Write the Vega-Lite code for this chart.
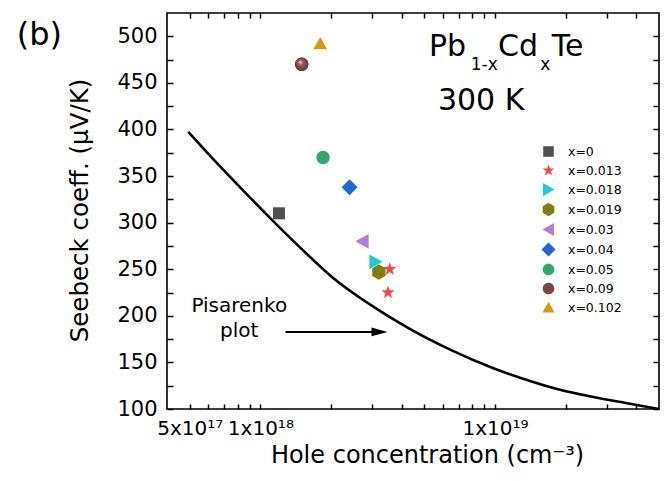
{
  "$schema": "https://vega.github.io/schema/vega-lite/v6.json",
  "autosize": {"type": "none"},
  "padding": {"left": 167, "top": 13, "right": 11, "bottom": 72},
  "width": 492,
  "height": 396,
  "background": "white",
  "config": {
    "font": "DejaVu Sans",
    "view": {"stroke": "black", "strokeWidth": 1.6}
  },
  "datasets": {
    "pisarenko": [
      {"p": 4.93e17, "S": 397.5},
      {"p": 6.43e17, "S": 365.8},
      {"p": 8.64e17, "S": 332.0},
      {"p": 1.126e18, "S": 302.5},
      {"p": 1.483e18, "S": 272.9},
      {"p": 2.03e18, "S": 241.2},
      {"p": 2.95e18, "S": 211.7},
      {"p": 4.37e18, "S": 185.4},
      {"p": 6.47e18, "S": 163.4},
      {"p": 9.78e18, "S": 144.0},
      {"p": 1.288e19, "S": 133.3},
      {"p": 1.909e19, "S": 120.4},
      {"p": 2.563e19, "S": 113.4},
      {"p": 3.61e19, "S": 106.4},
      {"p": 5.0e19, "S": 100}
    ],
    "samples": [
      {"sample": "x=0", "p": 1.2e18, "S": 310},
      {"sample": "x=0.018", "p": 3.1e18, "S": 258},
      {"sample": "x=0.019", "p": 3.2e18, "S": 247},
      {"sample": "x=0.013", "p": 3.56e18, "S": 250},
      {"sample": "x=0.013", "p": 3.5e18, "S": 225},
      {"sample": "x=0.03", "p": 2.72e18, "S": 280},
      {"sample": "x=0.04", "p": 2.4e18, "S": 338},
      {"sample": "x=0.05", "p": 1.85e18, "S": 370},
      {"sample": "x=0.09", "p": 1.5e18, "S": 470},
      {"sample": "x=0.102", "p": 1.8e18, "S": 492}
    ]
  },
  "layer": [
    {
      "data": {"name": "pisarenko"},
      "mark": {"type": "line", "color": "black", "strokeWidth": 2.6, "clip": true, "interpolate": "monotone"},
      "encoding": {
        "x": {
          "field": "p", "type": "quantitative",
          "scale": {"type": "log", "domain": [4e17, 5e19], "nice": false},
          "axis": {
            "orient": "bottom", "offset": -5, "zindex": 1,
            "values": [5e17, 6e17, 7e17, 8e17, 9e17, 1e18, 2e18, 3e18, 4e18, 5e18, 6e18, 7e18, 8e18, 9e18, 1e19, 2e19, 3e19, 4e19],
            "labelExpr": "datum.value == 5e17 ? '5x10¹⁷' : datum.value == 1e18 ? '1x10¹⁸' : datum.value == 1e19 ? '1x10¹⁹' : ''",
            "ticks": true, "tickSize": 5,
            "tickWidth": 1.5, "tickColor": "black",
            "domain": true, "domainOpacity": 0, "grid": false,
            "labelFont": "DejaVu Sans", "labelFontSize": 20, "labelColor": "black",
            "labelPadding": 9, "labelOverlap": false, "labelFlush": false,
            "title": "Hole concentration (cm⁻³)",
            "titleFont": "DejaVu Sans", "titleFontSize": 24, "titleFontWeight": "normal", "titleColor": "black",
            "titleX": 260, "titleY": 58, "titleBaseline": "alphabetic"
          }
        },
        "y": {
          "field": "S", "type": "quantitative",
          "scale": {"domain": [100, 525], "zero": false, "nice": false},
          "axis": {
            "orient": "left", "offset": -6, "zindex": 1,
            "values": [100, 125, 150, 175, 200, 225, 250, 275, 300, 325, 350, 375, 400, 425, 450, 475, 500],
            "labelExpr": "datum.value % 50 == 0 ? datum.label : ''",
            "ticks": true, "tickSize": 6,
            "tickWidth": 1.5, "tickColor": "black",
            "domain": true, "domainOpacity": 0, "grid": false,
            "labelFont": "DejaVu Sans", "labelFontSize": 21, "labelColor": "black",
            "labelPadding": 10, "labelOverlap": false, "labelFlush": false,
            "title": "Seebeck coeff. (µV/K)",
            "titleFont": "DejaVu Sans", "titleFontSize": 24.5, "titleFontWeight": "normal", "titleColor": "black",
            "titleX": -86, "titleY": 197, "titleBaseline": "alphabetic", "titleAngle": -90
          }
        }
      }
    },
    {
      "data": {"name": "samples"},
      "mark": {"type": "point", "filled": true, "size": 196, "opacity": 1, "strokeWidth": 0},
      "encoding": {
        "x": {
          "field": "p", "type": "quantitative",
          "scale": {"type": "log", "domain": [4e17, 5e19], "nice": false},
          "axis": {
            "orient": "top", "offset": -5, "zindex": 1,
            "values": [5e17, 6e17, 7e17, 8e17, 9e17, 1e18, 2e18, 3e18, 4e18, 5e18, 6e18, 7e18, 8e18, 9e18, 1e19, 2e19, 3e19, 4e19],
            "labels": false, "title": null, "grid": false,
            "domain": true, "domainOpacity": 0,
            "ticks": true, "tickSize": 5,
            "tickWidth": 1.5, "tickColor": "black"
          }
        },
        "y": {
          "field": "S", "type": "quantitative",
          "scale": {"domain": [100, 525], "zero": false, "nice": false},
          "axis": {
            "orient": "right", "offset": -6, "zindex": 1,
            "values": [100, 125, 150, 175, 200, 225, 250, 275, 300, 325, 350, 375, 400, 425, 450, 475, 500],
            "labels": false, "title": null, "grid": false,
            "domain": true, "domainOpacity": 0,
            "ticks": true, "tickSize": 6,
            "tickWidth": 1.5, "tickColor": "black"
          }
        },
        "color": {
          "field": "sample", "type": "nominal",
          "scale": {
            "domain": ["x=0", "x=0.013", "x=0.018", "x=0.019", "x=0.03", "x=0.04", "x=0.05", "x=0.09", "x=0.102"],
            "range": ["#4f4f4f", "#fb4545", "#1ccbd6", "#7f7f0c", "#b57ce0", "#1d67dc", "#2fa86c", "#7a4545", "#d39c0c"]
          },
          "legend": {
            "orient": "none", "legendX": 375, "legendY": 132, "title": null,
            "labelFont": "DejaVu Sans", "labelFontSize": 12.5, "labelColor": "black",
            "symbolSize": 150, "symbolStrokeWidth": 0, "symbolOpacity": 1,
            "labelOffset": 13, "rowPadding": 6
          }
        },
        "shape": {
          "field": "sample", "type": "nominal",
          "scale": {
            "domain": ["x=0", "x=0.013", "x=0.018", "x=0.019", "x=0.03", "x=0.04", "x=0.05", "x=0.09", "x=0.102"],
            "range": [
              "M-0.86,-0.86H0.86V0.86H-0.86Z",
              "M0,-1L0.235,-0.324L0.951,-0.309L0.38,0.124L0.588,0.809L0,0.4L-0.588,0.809L-0.38,0.124L-0.951,-0.309L-0.235,-0.324Z",
              "M1,0L-0.9,-1.05L-0.9,1.05Z",
              "M0,-1.1L0.95,-0.55L0.95,0.55L0,1.1L-0.95,0.55L-0.95,-0.55Z",
              "M-1,0L0.9,-1.05L0.9,1.05Z",
              "M0,-1.14L1.14,0L0,1.14L-1.14,0Z",
              "M0.95,0A0.95,0.95 0 1,1 -0.95,0A0.95,0.95 0 1,1 0.95,0Z",
              "M0.95,0A0.95,0.95 0 1,1 -0.95,0A0.95,0.95 0 1,1 0.95,0Z",
              "M0,-0.95L1,0.8L-1,0.8Z"
            ]
          },
          "legend": {
            "orient": "none", "legendX": 375, "legendY": 132, "title": null,
            "labelFont": "DejaVu Sans", "labelFontSize": 12.5, "labelColor": "black",
            "symbolSize": 150, "symbolStrokeWidth": 0, "symbolOpacity": 1,
            "labelOffset": 13, "rowPadding": 6
          }
        }
      }
    },
    {
      "data": {"name": "samples"},
      "transform": [{"filter": "datum.sample == 'x=0.09'"}],
      "mark": {
        "type": "point", "filled": true, "size": 196, "opacity": 1, "strokeWidth": 0,
        "shape": "M0.95,0A0.95,0.95 0 1,1 -0.95,0A0.95,0.95 0 1,1 0.95,0Z",
        "color": {
          "gradient": "radial", "x1": 0.38, "y1": 0.32, "r1": 0, "x2": 0.5, "y2": 0.5, "r2": 0.6,
          "stops": [
            {"offset": 0, "color": "#f2e4e4"},
            {"offset": 0.3, "color": "#9a5f5f"},
            {"offset": 0.75, "color": "#6e3b3b"},
            {"offset": 1, "color": "#4f2626"}
          ]
        }
      },
      "encoding": {
        "x": {"field": "p", "type": "quantitative", "scale": {"type": "log", "domain": [4e17, 5e19], "nice": false}, "axis": null},
        "y": {"field": "S", "type": "quantitative", "scale": {"domain": [100, 525], "zero": false, "nice": false}, "axis": null}
      }
    },
    {
      "data": {"values": [{"p1": 1.28e18, "p2": 3.1e18, "S": 182.7}]},
      "mark": {"type": "rule", "color": "black", "strokeWidth": 2},
      "encoding": {
        "x": {"field": "p1", "type": "quantitative", "scale": {"type": "log", "domain": [4e17, 5e19], "nice": false}, "axis": null},
        "x2": {"field": "p2"},
        "y": {"field": "S", "type": "quantitative", "scale": {"domain": [100, 525], "zero": false, "nice": false}, "axis": null}
      }
    },
    {
      "data": {"values": [{"p": 3.22e18, "S": 182.7}]},
      "mark": {"type": "point", "filled": true, "color": "black", "opacity": 1, "size": 256, "shape": "M1,0L-1,-0.55L-1,0.55Z", "strokeWidth": 0},
      "encoding": {
        "x": {"field": "p", "type": "quantitative", "scale": {"type": "log", "domain": [4e17, 5e19], "nice": false}, "axis": null},
        "y": {"field": "S", "type": "quantitative", "scale": {"domain": [100, 525], "zero": false, "nice": false}, "axis": null}
      }
    },
    {
      "data": {"values": [
        {"label": "Pb", "p": 5.23e18, "S": 478.4},
        {"label": "Cd", "p": 1.031e19, "S": 478.4},
        {"label": "Te", "p": 1.747e19, "S": 478.4},
        {"label": "300 K", "p": 5.71e18, "S": 420.4}
      ]},
      "mark": {"type": "text", "font": "DejaVu Sans", "fontSize": 30, "color": "black", "align": "left", "baseline": "alphabetic"},
      "encoding": {
        "x": {"field": "p", "type": "quantitative", "scale": {"type": "log", "domain": [4e17, 5e19], "nice": false}, "axis": null},
        "y": {"field": "S", "type": "quantitative", "scale": {"domain": [100, 525], "zero": false, "nice": false}, "axis": null},
        "text": {"field": "label"}
      }
    },
    {
      "data": {"values": [
        {"label": "1-x", "p": 7.88e18, "S": 464.1},
        {"label": "x", "p": 1.56e19, "S": 464.1}
      ]},
      "mark": {"type": "text", "font": "DejaVu Sans", "fontSize": 17, "color": "black", "align": "left", "baseline": "alphabetic"},
      "encoding": {
        "x": {"field": "p", "type": "quantitative", "scale": {"type": "log", "domain": [4e17, 5e19], "nice": false}, "axis": null},
        "y": {"field": "S", "type": "quantitative", "scale": {"domain": [100, 525], "zero": false, "nice": false}, "axis": null},
        "text": {"field": "label"}
      }
    },
    {
      "data": {"values": [
        {"label": "Pisarenko", "p": 8.13e17, "S": 204.5},
        {"label": "plot", "p": 8.13e17, "S": 177}
      ]},
      "mark": {"type": "text", "font": "DejaVu Sans", "fontSize": 20, "color": "black", "align": "center", "baseline": "alphabetic"},
      "encoding": {
        "x": {"field": "p", "type": "quantitative", "scale": {"type": "log", "domain": [4e17, 5e19], "nice": false}, "axis": null},
        "y": {"field": "S", "type": "quantitative", "scale": {"domain": [100, 525], "zero": false, "nice": false}, "axis": null},
        "text": {"field": "label"}
      }
    },
    {
      "data": {"values": [{"label": "(b)", "p": 9.16e16, "S": 491}]},
      "mark": {"type": "text", "font": "DejaVu Sans", "fontSize": 32, "color": "black", "align": "left", "baseline": "alphabetic", "clip": false},
      "encoding": {
        "x": {"field": "p", "type": "quantitative", "scale": {"type": "log", "domain": [4e17, 5e19], "nice": false}, "axis": null},
        "y": {"field": "S", "type": "quantitative", "scale": {"domain": [100, 525], "zero": false, "nice": false}, "axis": null},
        "text": {"field": "label"}
      }
    }
  ],
  "resolve": {"axis": {"x": "independent", "y": "independent"}}
}
